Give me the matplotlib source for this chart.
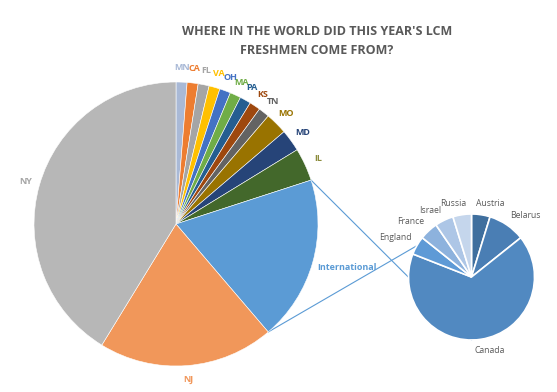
import numpy as np
import matplotlib.pyplot as plt

# main pie (clockwise from 12 o'clock)
states = ["MN", "CA", "FL", "VA", "OH", "MA", "PA", "KS", "TN", "MO", "MD", "IL", "International", "NJ", "NY"]
students = [1, 1, 1, 1, 1, 1, 1, 1, 1, 2, 2, 3, 15, 16, 33]
state_colors = ["#a9b9d6", "#ed7d31", "#a5a5a5", "#ffc000", "#4472c4", "#70ad47", "#255e91", "#9e480e",
                "#636363", "#997300", "#264478", "#43682b", "#5b9bd5", "#f1975a", "#b7b7b7"]
label_colors = ["#a9b9d6", "#ed7d31", "#a5a5a5", "#ffc000", "#4472c4", "#70ad47", "#255e91", "#9e480e",
                "#636363", "#997300", "#264478", "#8c8c3c", "#5b9bd5", "#f1975a", "#a5a5a5"]

# international breakdown (second pie)
countries = ["Austria", "Belarus", "Canada", "England", "France", "Israel", "Russia"]
intl_students = [1, 2, 14, 1, 1, 1, 1]
country_colors = ["#3f6f9e", "#4a7eb4", "#5189c1", "#5e9ad6", "#8db2dd", "#adc6e6", "#c5d6ec"]

W, H = 557, 392
fig = plt.figure(figsize=(W / 100, H / 100), dpi=100)
ax = fig.add_axes([0, 0, 1, 1])

c1, r1 = (176, H - 224), 142
c2, r2 = (471.5, H - 277), 63

wedges, _ = ax.pie(students, colors=state_colors, startangle=90, counterclock=False,
                   center=c1, radius=r1, frame=True,
                   wedgeprops=dict(edgecolor="white", linewidth=0.4))
for w, name, col in zip(wedges, states, label_colors):
    mid = np.deg2rad((w.theta1 + w.theta2) / 2)
    if name == "International":
        d, ha = 1.03, "left"
    else:
        d, ha = 1.1, "center"
    x = c1[0] + d * r1 * np.cos(mid)
    y = c1[1] + d * r1 * np.sin(mid)
    ax.text(x, y - (4 if name == "International" else 0), name, color=col, fontsize=6.5,
            fontweight="bold", ha=ha, va="center", family="Open Sans")

wedges2, _ = ax.pie(intl_students, colors=country_colors, startangle=90, counterclock=False,
                    center=c2, radius=r2, frame=True,
                    wedgeprops=dict(edgecolor="white", linewidth=1.2))
for w, name in zip(wedges2, countries):
    mid = np.deg2rad((w.theta1 + w.theta2) / 2)
    cs, sn = np.cos(mid), np.sin(mid)
    x = c2[0] + 1.1 * r2 * cs
    y = c2[1] + 1.1 * r2 * sn
    if abs(cs) < 0.2:
        ha = "center"
        x += 8 * np.sign(cs)
    else:
        ha = "left" if cs > 0 else "right"
    va = "bottom" if sn > 0 else "top"
    ax.text(x, y, name, color="#595959", fontsize=6.2, ha=ha, va=va, family="Open Sans")

# connector lines from the International slice
intl = wedges[states.index("International")]
for th, ty in [(intl.theta1, c2[1] + r2), (intl.theta2, c2[1] - r2)]:
    t = np.deg2rad(th)
    ax.plot([c1[0] + r1 * np.cos(t), c2[0]], [c1[1] + r1 * np.sin(t), ty],
            color="#5b9bd5", lw=0.8, zorder=0)

ax.set_xlim(0, W)
ax.set_ylim(0, H)
ax.set_aspect("equal")
ax.axis("off")

fig.text(317 / W, 1 - 41 / H, "WHERE IN THE WORLD DID THIS YEAR'S LCM\nFRESHMEN COME FROM?",
         ha="center", va="center", fontsize=9, fontweight="bold", color="#595959",
         family="Open Sans", linespacing=1.55)

fig.savefig("out.png", dpi=100)
